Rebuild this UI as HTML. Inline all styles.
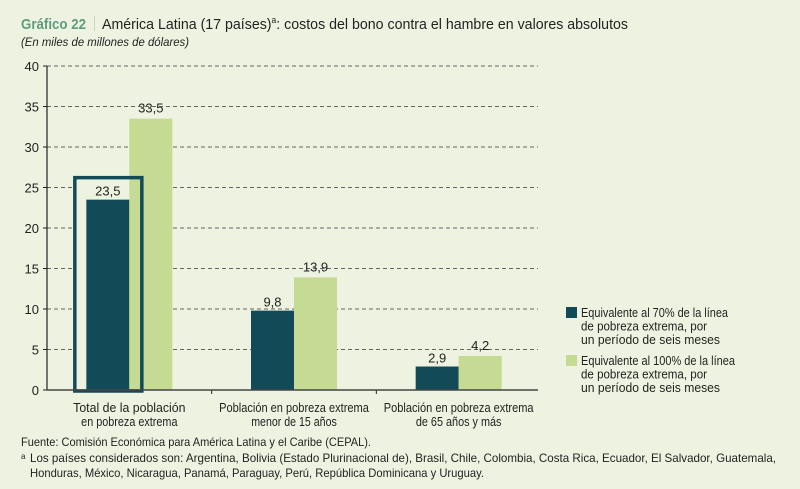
<!DOCTYPE html>
<html><head><meta charset="utf-8"><style>
body{margin:0;background:#eef3e1;}
svg{display:block;font-family:"Liberation Sans Narrow","Liberation Sans",sans-serif;}
</style></head><body>
<svg width="800" height="489" viewBox="0 0 800 489">
<rect width="800" height="489" fill="#eef3e1"/>
<text x="21" y="29" font-size="15" font-weight="bold" fill="#5c9c7e" textLength="65" lengthAdjust="spacingAndGlyphs">Gráfico 22</text>
<rect x="94" y="16" width="1" height="15" fill="#c8d8c0"/>
<text x="102" y="29" font-size="15" fill="#222" textLength="526" lengthAdjust="spacingAndGlyphs">América Latina (17 países)<tspan font-size="9" dy="-6">a</tspan><tspan dy="6">: costos del bono contra el hambre en valores absolutos</tspan></text>
<text x="21" y="46" font-size="12" font-style="italic" fill="#222" textLength="168" lengthAdjust="spacingAndGlyphs">(En miles de millones de dólares)</text>
<g id="grid"></g>
<g id="bars"></g>
<g id="axes"></g>
<g font-size="12.5" fill="#222">
<rect x="566" y="307" width="11" height="11" fill="#134a58"/>
<text x="581" y="317" textLength="147" lengthAdjust="spacingAndGlyphs">Equivalente al 70% de la línea</text>
<text x="581" y="330.5" textLength="126" lengthAdjust="spacingAndGlyphs">de pobreza extrema, por</text>
<text x="581" y="344" textLength="139" lengthAdjust="spacingAndGlyphs">un período de seis meses</text>
<rect x="566" y="355" width="11" height="11" fill="#c5da93"/>
<text x="581" y="365" textLength="154" lengthAdjust="spacingAndGlyphs">Equivalente al 100% de la línea</text>
<text x="581" y="378.5" textLength="126" lengthAdjust="spacingAndGlyphs">de pobreza extrema, por</text>
<text x="581" y="392" textLength="139" lengthAdjust="spacingAndGlyphs">un período de seis meses</text>
</g>
<g font-size="12" fill="#222">
<text x="21" y="446" textLength="350" lengthAdjust="spacingAndGlyphs">Fuente: Comisión Económica para América Latina y el Caribe (CEPAL).</text>
<text x="21" y="459" font-size="8">a</text>
<text x="30" y="462" textLength="746" lengthAdjust="spacingAndGlyphs">Los países considerados son: Argentina, Bolivia (Estado Plurinacional de), Brasil, Chile, Colombia, Costa Rica, Ecuador, El Salvador, Guatemala,</text>
<text x="30" y="477" textLength="454" lengthAdjust="spacingAndGlyphs">Honduras, México, Nicaragua, Panamá, Paraguay, Perú, República Dominicana y Uruguay.</text>
</g>
</svg>
<script>
const categories=[["Total de la población","en pobreza extrema"],["Población en pobreza extrema","menor de 15 años"],["Población en pobreza extrema","de 65 años y más"]];
const series70=[23.5,9.8,2.9];
const series100=[33.5,13.9,4.2];
const yTicks=[0,5,10,15,20,25,30,35,40];
const labels70=["23,5","9,8","2,9"];
const labels100=["33,5","13,9","4,2"];
const NS="http://www.w3.org/2000/svg";
const X0=47,X1=541,Y0=390,Y1=66,YMAX=40;
const y=v=>Y0-(v/YMAX)*(Y0-Y1);
const band=(X1-X0)/categories.length;
const cx=i=>X0+band*(i+0.5);
const BW=43;
const charW=5.35;
function mk(t,a,p){const e=document.createElementNS(NS,t);for(const k in a)e.setAttribute(k,a[k]);p.appendChild(e);return e;}
const grid=document.getElementById('grid'),bars=document.getElementById('bars'),axes=document.getElementById('axes');
yTicks.forEach(t=>{
  if(t>0){const l=mk('line',{x1:X0,x2:X1-3,y1:y(t),y2:y(t),stroke:'#666','stroke-width':1,'stroke-dasharray':'4 3'},grid);
  
  }
  const tk=mk('line',{x1:X0-4,x2:X0,y1:y(t),y2:y(t),stroke:'#222'},axes);
  
  
  const tx=mk('text',{x:X0-8,y:y(t)+5,'text-anchor':'end','font-size':13,fill:'#222'},axes);
  tx.textContent=t;
  
  
});
const boxTop=y(series70[0])-22;
const boxAttrs={x:cx(0)-BW-11.5,y:boxTop,width:BW+24,height:Y0+1-boxTop};
const hbf=mk('rect',Object.assign({fill:'#eef3e1'},boxAttrs),bars);


categories.forEach((c,i)=>{
  const b1=mk('rect',{x:cx(i)-BW,y:y(series70[i]),width:BW,height:Y0-y(series70[i]),fill:'#134a58'},bars);
  
  
  const b2=mk('rect',{x:cx(i),y:y(series100[i]),width:BW,height:Y0-y(series100[i]),fill:'#c5da93'},bars);
  
  
  const l1=mk('text',{x:cx(i)-BW/2,y:y(series70[i])-4,'text-anchor':'middle','font-size':13,fill:'#222'},bars);
  l1.textContent=labels70[i];
  
  
  const l2=mk('text',{x:cx(i)+BW/2,y:y(series100[i])-6,'text-anchor':'middle','font-size':13,fill:'#222'},bars);
  l2.textContent=labels100[i];
  
  
  c.forEach((s,j)=>{
    const w=s.length*charW;
    const ct=mk('text',{x:cx(i),y:412+j*14,'text-anchor':'middle','font-size':12.5,fill:'#222',textLength:w,lengthAdjust:'spacingAndGlyphs'},axes);
    ct.textContent=s;
    
    
  });
  if(i>0){const tk=mk('line',{x1:X0+band*i,x2:X0+band*i,y1:Y0,y2:Y0+4,stroke:'#222'},axes);
  
  }
});
const hb=mk('rect',Object.assign({fill:'none',stroke:'#134a58','stroke-width':3.5},boxAttrs),bars);


const ya=mk('line',{x1:X0,x2:X0,y1:Y1,y2:Y0,stroke:'#222','stroke-width':1.2},axes);


const xa=mk('line',{x1:X0,x2:X1-3,y1:Y0,y2:Y0,stroke:'#444','stroke-width':1.5},axes);


</script>
</body></html>
